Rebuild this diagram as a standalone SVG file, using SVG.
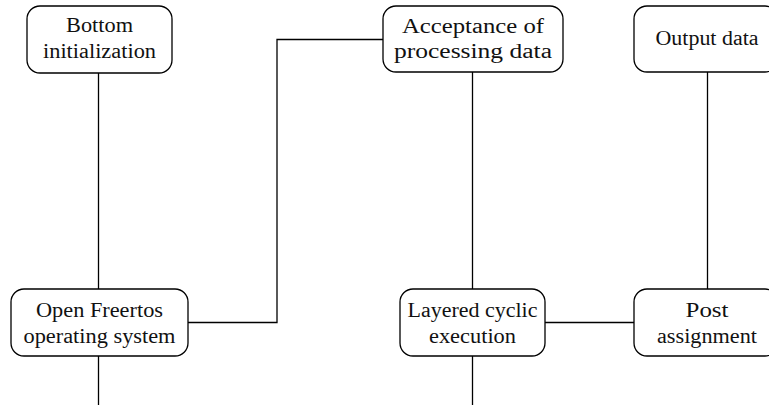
<svg xmlns="http://www.w3.org/2000/svg" width="769" height="405" viewBox="0 0 769 405">
<style>
.box{fill:#fff;stroke:#000;stroke-width:1.3}
.lbl{font-family:"Liberation Serif","Times New Roman",serif;font-size:20.5px;fill:#111;text-anchor:middle}
.conn{fill:none;stroke:#000;stroke-width:1.3}
</style>
<rect width="769" height="405" fill="#fff"/>
<g id="connectors">
<line class="conn" x1="98.5" y1="73" x2="98.5" y2="289"/>
<line class="conn" x1="98.5" y1="356" x2="98.5" y2="405"/>
<polyline class="conn" points="188,322.5 277,322.5 277,39.5 383,39.5"/>
<line class="conn" x1="472.5" y1="72" x2="472.5" y2="289"/>
<line class="conn" x1="472.5" y1="356" x2="472.5" y2="405"/>
<line class="conn" x1="545" y1="322.5" x2="634" y2="322.5"/>
<line class="conn" x1="707.5" y1="72" x2="707.5" y2="289"/>
</g>
<g id="n1">
<rect class="box" x="27" y="6" width="145" height="67" rx="13"/>
<text class="lbl" x="99.5" y="32" textLength="67" lengthAdjust="spacingAndGlyphs">Bottom</text>
<text class="lbl" x="99.5" y="58" textLength="113" lengthAdjust="spacingAndGlyphs">initialization</text>
</g>
<g id="n2">
<rect class="box" x="383" y="6" width="180" height="66" rx="13"/>
<text class="lbl" x="473" y="33" textLength="142" lengthAdjust="spacingAndGlyphs">Acceptance of</text>
<text class="lbl" x="473" y="58" textLength="158" lengthAdjust="spacingAndGlyphs">processing data</text>
</g>
<g id="n3">
<rect class="box" x="634" y="6" width="144" height="66" rx="13"/>
<text class="lbl" x="707" y="45" textLength="103" lengthAdjust="spacingAndGlyphs">Output data</text>
</g>
<g id="n4">
<rect class="box" x="11" y="289" width="177" height="67" rx="13"/>
<text class="lbl" x="99.5" y="317" textLength="127" lengthAdjust="spacingAndGlyphs">Open Freertos</text>
<text class="lbl" x="99.5" y="343" textLength="152" lengthAdjust="spacingAndGlyphs">operating system</text>
</g>
<g id="n5">
<rect class="box" x="400" y="289" width="145" height="67" rx="13"/>
<text class="lbl" x="472.5" y="317" textLength="130" lengthAdjust="spacingAndGlyphs">Layered cyclic</text>
<text class="lbl" x="472.5" y="343" textLength="87" lengthAdjust="spacingAndGlyphs">execution</text>
</g>
<g id="n6">
<rect class="box" x="634" y="289" width="144" height="67" rx="13"/>
<text class="lbl" x="707" y="317" textLength="43" lengthAdjust="spacingAndGlyphs">Post</text>
<text class="lbl" x="707" y="343" textLength="100" lengthAdjust="spacingAndGlyphs">assignment</text>
</g>
</svg>
